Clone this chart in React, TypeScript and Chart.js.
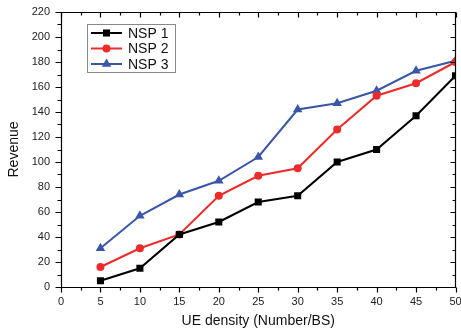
import React, { useEffect, useRef } from 'react';
import { Chart, registerables } from 'chart.js';

Chart.register(...registerables);

const ueDensity = [5, 10, 15, 20, 25, 30, 35, 40, 45, 50];
const nsp1 = [5, 15, 42, 52, 68, 73, 100, 110, 137, 169];
const nsp2 = [16, 31, 42, 73, 89, 95, 126, 153, 163, 180];
const nsp3 = [31, 57, 74, 85, 104, 142, 147, 157, 173, 181];
const seriesLabels = ['NSP 1', 'NSP 2', 'NSP 3'];
const seriesColors = ['#000000', '#EE2B2B', '#3A56A8'];
const seriesMarkers = ['rect', 'circle', 'triangle'];
const markerRadius = [5, 4, 5.5];
const xTitle = 'UE density (Number/BS)';
const yTitle = 'Revenue';

const FONT = '"Liberation Sans", Arial, sans-serif';

function drawMarker(ctx: CanvasRenderingContext2D, style: string, x: number, y: number, r: number, color: string) {
  ctx.save();
  ctx.fillStyle = color;
  ctx.beginPath();
  if (style === 'rect') {
    const s = Math.SQRT1_2 * r;
    ctx.rect(x - s, y - s, 2 * s, 2 * s);
  } else if (style === 'circle') {
    ctx.arc(x, y, r, 0, Math.PI * 2);
  } else {
    const h = r;
    ctx.moveTo(x, y - h);
    ctx.lineTo(x + h * Math.cos(Math.PI / 6), y + h * 0.5);
    ctx.lineTo(x - h * Math.cos(Math.PI / 6), y + h * 0.5);
    ctx.closePath();
  }
  ctx.fill();
  ctx.restore();
}

const framePlugin = {
  id: 'frameTicks',
  afterDatasetsDraw(chart: any) {
    const { ctx, chartArea } = chart;
    const { left, right, top, bottom } = chartArea;
    const xs = chart.scales.x;
    const ys = chart.scales.y;
    ctx.save();
    ctx.strokeStyle = '#000';
    ctx.lineWidth = 1.2;
    const L = Math.round(left) + 0.5;
    const R = Math.round(right) - 0.5;
    const T = Math.round(top) + 0.5;
    const B = Math.round(bottom) + 0.5;
    ctx.beginPath();
    ctx.moveTo(L, T);
    ctx.lineTo(R, T);
    ctx.lineTo(R, B);
    ctx.lineTo(L, B);
    ctx.closePath();
    ctx.stroke();
    ctx.beginPath();
    for (let v = 0; v <= 50 + 1e-6; v += 2.5) {
      const px = Math.round(xs.getPixelForValue(v)) + 0.5;
      const major = Math.abs(v % 5) < 1e-6;
      const len = major ? 5 : 3;
      ctx.moveTo(px, B);
      ctx.lineTo(px, B + len);
      ctx.moveTo(px, T);
      ctx.lineTo(px, T + len);
    }
    for (let v = 0; v <= 220 + 1e-6; v += 10) {
      const py = Math.round(ys.getPixelForValue(v)) + 0.5;
      const major = Math.abs(v % 20) < 1e-6;
      const len = major ? 6 : 4;
      ctx.moveTo(L, py);
      ctx.lineTo(L - len, py);
      ctx.moveTo(R, py);
      ctx.lineTo(R - len + 1, py);
    }
    ctx.stroke();
    ctx.restore();
  },
};

const legendPlugin = {
  id: 'boxLegend',
  afterDraw(chart: any) {
    const { ctx } = chart;
    const bx = 87.5, by = 24.5, bw = 88, bh = 48;
    ctx.save();
    ctx.fillStyle = '#fff';
    ctx.fillRect(bx, by, bw, bh);
    ctx.strokeStyle = '#888';
    ctx.lineWidth = 1;
    ctx.strokeRect(bx, by, bw, bh);
    chart.data.datasets.forEach((ds: any, i: number) => {
      const cy = 33 + i * 15.5;
      ctx.strokeStyle = ds.borderColor;
      ctx.lineWidth = 2;
      ctx.beginPath();
      ctx.moveTo(91, cy);
      ctx.lineTo(122, cy);
      ctx.stroke();
      drawMarker(ctx, seriesMarkers[i], 106.5, cy, markerRadius[i], ds.borderColor);
      ctx.fillStyle = '#111';
      ctx.font = `14px ${FONT}`;
      ctx.textBaseline = 'middle';
      ctx.textAlign = 'left';
      ctx.fillText(ds.label, 128, cy + 1);
    });
    ctx.restore();
  },
};

export default function App() {
  const ref = useRef<HTMLCanvasElement | null>(null);
  useEffect(() => {
    if (!ref.current) return;
    const series = [nsp1, nsp2, nsp3];
    const chart = new Chart(ref.current, {
      type: 'line',
      data: {
        datasets: series.map((vals, i) => ({
          label: seriesLabels[i],
          data: ueDensity.map((x, j) => ({ x, y: vals[j] })),
          borderColor: seriesColors[i],
          backgroundColor: seriesColors[i],
          borderWidth: 2,
          pointStyle: seriesMarkers[i] as any,
          pointRadius: markerRadius[i],
          pointBorderWidth: 0,
          tension: 0,
        })),
      },
      options: {
        animation: false,
        responsive: false,
        devicePixelRatio: 1,
        layout: { padding: { top: 12, right: 5, left: 0, bottom: 0 } },
        plugins: { legend: { display: false }, tooltip: { enabled: false } },
        scales: {
          x: {
            type: 'linear',
            min: 0,
            max: 50,
            grid: { display: false, drawTicks: false },
            border: { display: false },
            ticks: { stepSize: 5, padding: 8, color: '#222', font: { family: FONT, size: 11 }, maxRotation: 0 },
            title: { display: true, text: xTitle, color: '#111', font: { family: FONT, size: 14 }, padding: { top: 0, bottom: 5 } },
            afterFit: (s: any) => { s.height = 48; s.paddingLeft = 0; s.paddingRight = 0; },
          },
          y: {
            type: 'linear',
            min: 0,
            max: 220,
            grid: { display: false, drawTicks: false },
            border: { display: false },
            ticks: { stepSize: 20, padding: 11, color: '#222', font: { family: FONT, size: 11 } },
            title: { display: true, text: yTitle, color: '#111', font: { family: FONT, size: 14 }, padding: { top: 6, bottom: 0 } },
            afterFit: (s: any) => { s.width = 61; s.paddingTop = 0; s.paddingBottom = 0; },
          },
        },
      },
      plugins: [framePlugin, legendPlugin],
    });
    return () => chart.destroy();
  }, []);
  return (
    <div style={{ position: 'absolute', left: 0, top: 0, width: 461, height: 335, background: '#fff' }}>
      <canvas ref={ref} width={461} height={335} style={{ display: 'block', width: 461, height: 335 }} />
    </div>
  );
}
